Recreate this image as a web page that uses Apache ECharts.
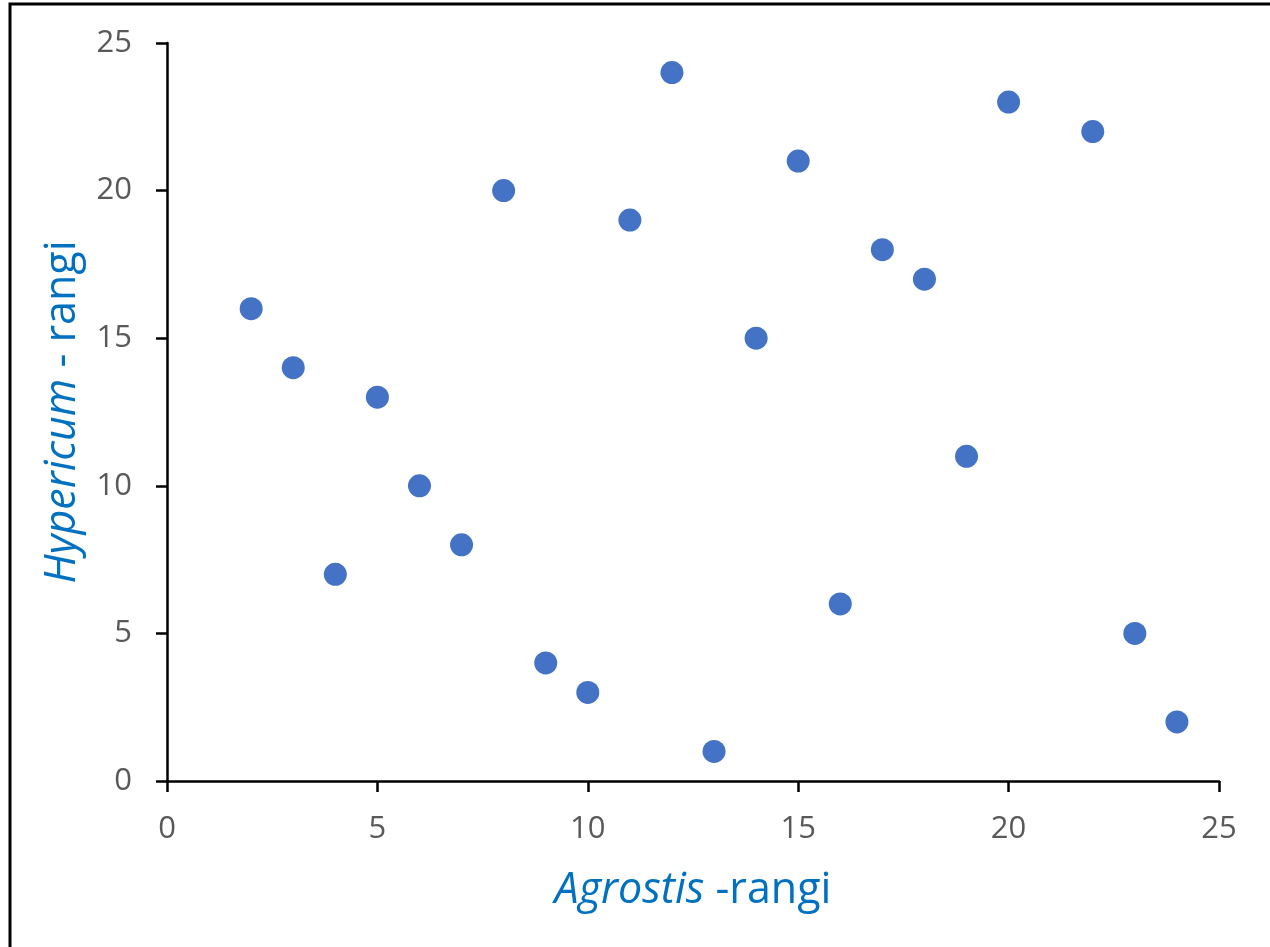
<!DOCTYPE html>
<html>
<head>
<meta charset="utf-8">
<script src="https://cdn.jsdelivr.net/npm/echarts@6/dist/echarts.min.js"></script>
<style>
  html, body { margin: 0; padding: 0; background: #fff; }
  #chart { width: 1270px; height: 947px; }
</style>
</head>
<body>
<div id="chart"></div>
<script>
// Rank of Agrostis (x) against rank of Hypericum (y)
const agrostisRank = [2, 3, 4, 5, 6, 7, 8, 9, 10, 11, 12, 13, 14, 15, 16, 17, 18, 19, 20, 22, 23, 24];
const hypericumRank = [16, 14, 7, 13, 10, 8, 20, 4, 3, 19, 24, 1, 15, 21, 6, 18, 17, 11, 23, 22, 5, 2];
const axisTicks = [0, 5, 10, 15, 20, 25];

const points = agrostisRank.map((x, i) => [x, hypericumRank[i]]);

const FONT = 'Open Sans';
const tickStyle = { color: '#595959', fontSize: 31, fontFamily: FONT };
const nameRich = {
  i: { fontStyle: 'italic', color: '#0070C0', fontSize: 43, fontFamily: FONT },
  n: { color: '#0070C0', fontSize: 43, fontFamily: FONT }
};

function axis(name, gap, labelMargin) {
  return {
    type: 'value',
    min: axisTicks[0],
    max: axisTicks[axisTicks.length - 1],
    interval: axisTicks[1] - axisTicks[0],
    name: name,
    nameLocation: 'middle',
    nameGap: gap,
    nameTextStyle: { rich: nameRich },
    axisLine: { show: true, lineStyle: { color: '#000', width: 2.5 } },
    axisTick: { show: true, inside: false, length: 11, lineStyle: { color: '#000', width: 2.5 } },
    axisLabel: Object.assign({ margin: labelMargin }, tickStyle),
    splitLine: { show: false }
  };
}

const chart = echarts.init(document.getElementById('chart'), null, { renderer: 'canvas' });
chart.setOption({
  animation: false,
  backgroundColor: '#fff',
  grid: { left: 167, right: 51, top: 43, bottom: 166, containLabel: false },
  xAxis: axis('{i|Agrostis}{n| -rangi}', 88, 33),
  yAxis: axis('{i|Hypericum}{n| - rangi}', 83, 35),
  graphic: [{
    type: 'rect',
    shape: { x: 10, y: 4, width: 2000, height: 2000 },
    style: { fill: 'none', stroke: '#000', lineWidth: 3 },
    silent: true
  }],
  series: [{
    type: 'scatter',
    data: points,
    symbol: 'circle',
    symbolSize: 23,
    itemStyle: { color: '#4472C4', opacity: 1 }
  }]
});
</script>
</body>
</html>
